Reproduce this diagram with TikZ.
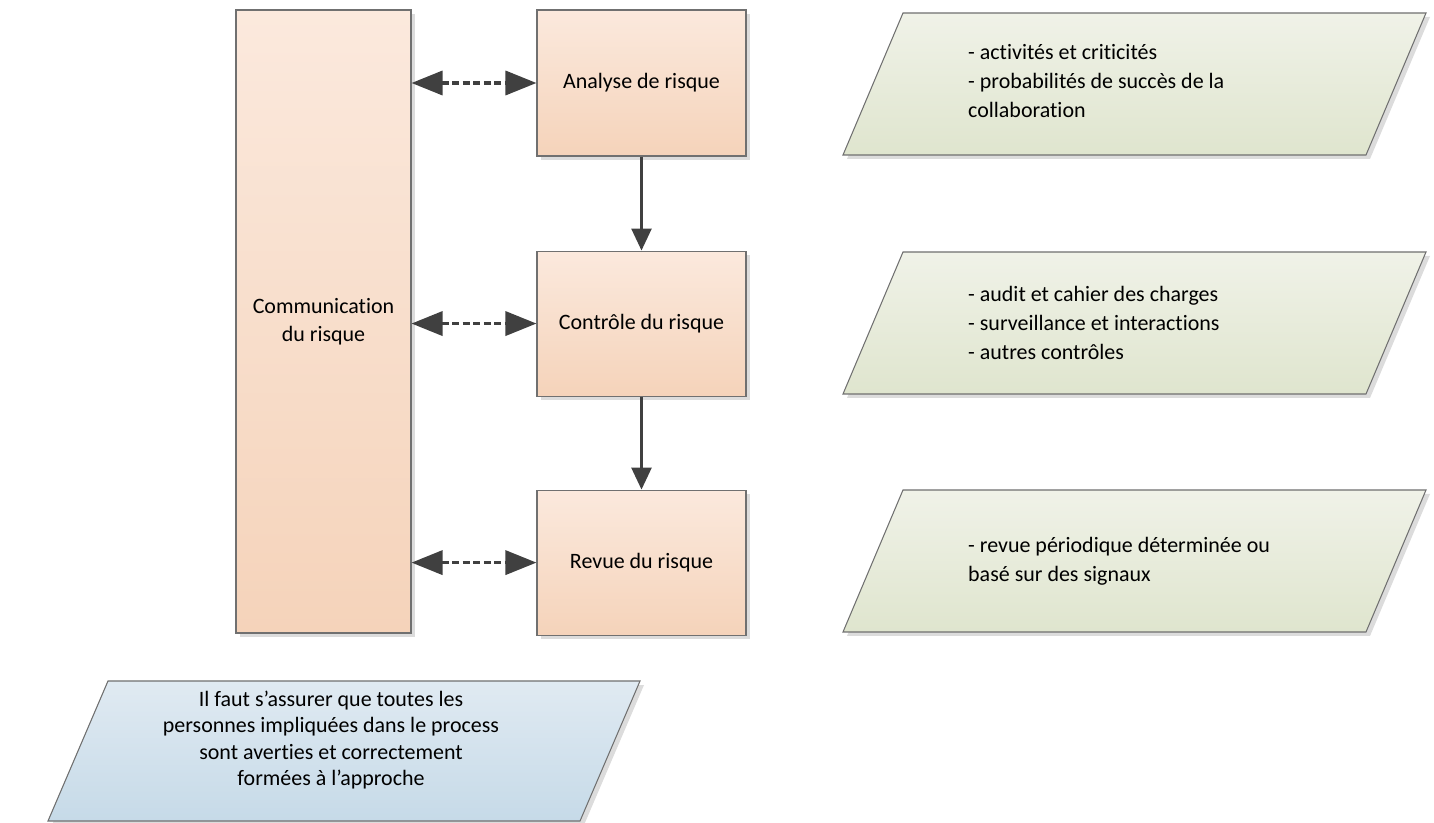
\documentclass[tikz,border=0pt]{standalone}
\usepackage{fontspec}
\setmainfont{Carlito}[RawFeature={-liga;-clig;-calt;-dlig}]
\usetikzlibrary{arrows.meta}
\usetikzlibrary{positioning}
\usetikzlibrary{shadows}

\definecolor{riskTop}{HTML}{FBE9DD}
\definecolor{riskBot}{HTML}{F5D3BA}
\definecolor{noteTop}{HTML}{F0F2E8}
\definecolor{noteBot}{HTML}{DFE5CE}
\definecolor{infoTop}{HTML}{E0EAF2}
\definecolor{infoBot}{HTML}{C6DAE8}
\definecolor{edgeGray}{HTML}{707070}
\definecolor{shadowGray}{HTML}{DCDCDC}
\definecolor{arrowGray}{HTML}{404040}

\begin{document}
\begin{tikzpicture}[
        riskbox/.style={draw=edgeGray, line width=0.6pt, top color=riskTop, bottom color=riskBot,
            drop shadow={shadow xshift=0.08cm, shadow yshift=-0.08cm, fill=shadowGray, opacity=1},
            align=center, font=\fontsize{12.5}{16}\selectfont},
        notetext/.style={align=left, anchor=west, font=\fontsize{12.5}{16.5}\selectfont},
        notebox/.style={draw=edgeGray, line width=0.6pt, top color=noteTop, bottom color=noteBot},
        infobox/.style={draw=edgeGray, line width=0.6pt, top color=infoTop, bottom color=infoBot},
        linkarrow/.style={arrowGray, line width=2pt, dash pattern=on 4pt off 2pt,
            {Triangle[length=0.62cm, width=0.48cm]}-{Triangle[length=0.62cm, width=0.48cm]}},
        flowarrow/.style={arrowGray, line width=1.5pt, -{Triangle[length=0.44cm, width=0.4cm]}}
    ]
            \useasboundingbox (0,0) rectangle (28.68,-16.46);

            % Risk boxes
            \node[riskbox, minimum width=3.5cm, minimum height=12.46cm] (comm) at (6.47,-6.43) {Communication\\du risque};
            \node[riskbox, minimum width=4.18cm, minimum height=2.92cm] (ana) at (12.83,-1.66) {Analyse de risque};
            \node[riskbox, minimum width=4.18cm, minimum height=2.9cm, below=1.88cm of ana] (ctrl) {Contrôle du risque};
            \node[riskbox, minimum width=4.18cm, minimum height=2.9cm, below=1.86cm of ctrl] (rev) {Revue du risque};

            % Arrows
            \draw[linkarrow] (comm.east |- ana) -- (ana.west);
            \draw[linkarrow] (comm.east |- ctrl) -- (ctrl.west);
            \draw[linkarrow] (comm.east |- rev) -- (rev.west);
            \draw[flowarrow] (ana) -- (ctrl);
            \draw[flowarrow] (ctrl) -- (rev);

            % Notes
            \fill[shadowGray] (18.14,-0.34) -- (28.6,-0.34) -- (27.4,-3.18) -- (16.94,-3.18) -- cycle;
            \shade[notebox] (18.06,-0.26) -- (28.52,-0.26) -- (27.32,-3.10) -- (16.86,-3.10) -- cycle;
            \node[notetext] (note1) at (19.24,-1.62) {- activités et criticités\\- probabilités de succès de la\\collaboration};

            \fill[shadowGray] (18.14,-5.12) -- (28.6,-5.12) -- (27.4,-7.96) -- (16.94,-7.96) -- cycle;
            \shade[notebox] (18.06,-5.04) -- (28.52,-5.04) -- (27.32,-7.88) -- (16.86,-7.88) -- cycle;
            \node[notetext] (note2) at (19.24,-6.46) {- audit et cahier des charges\\- surveillance et interactions\\- autres contrôles};

            \fill[shadowGray] (18.14,-9.88) -- (28.6,-9.88) -- (27.4,-12.72) -- (16.94,-12.72) -- cycle;
            \shade[notebox] (18.06,-9.80) -- (28.52,-9.80) -- (27.32,-12.64) -- (16.86,-12.64) -- cycle;
            \node[notetext] (note3) at (19.24,-11.22) {- revue périodique déterminée ou\\basé sur des signaux};

            % Training note
            \fill[shadowGray] (2.24,-13.70) -- (12.88,-13.70) -- (11.68,-16.50) -- (1.04,-16.50) -- cycle;
            \shade[infobox] (2.16,-13.62) -- (12.8,-13.62) -- (11.6,-16.42) -- (0.96,-16.42) -- cycle;
            \node[align=center, font=\fontsize{12.5}{15}\selectfont] (train) at (6.62,-14.8) {Il faut s’assurer que toutes les\\personnes impliquées dans le process\\sont averties et correctement\\formées à l’approche};
        \end{tikzpicture}
\end{document}
